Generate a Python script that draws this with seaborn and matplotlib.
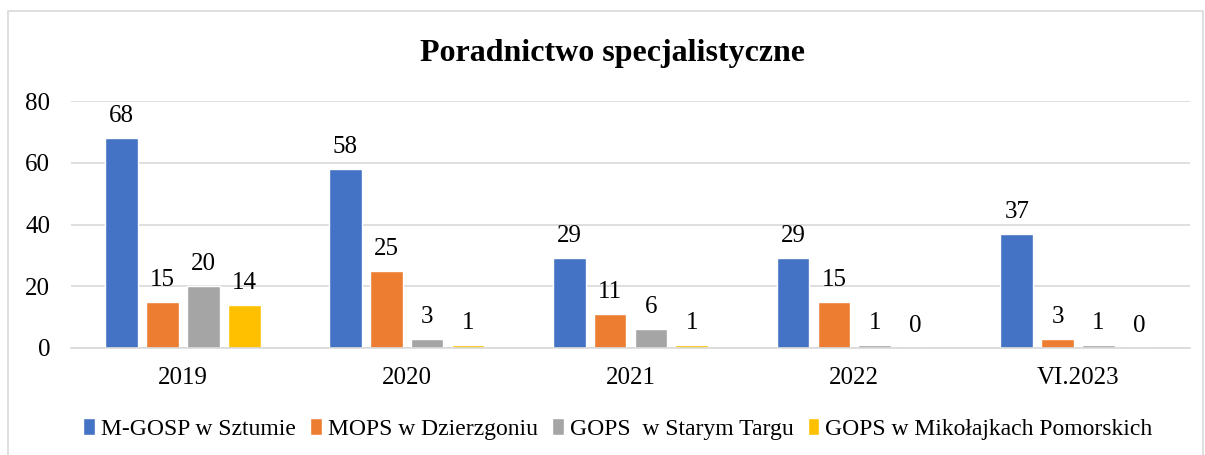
import matplotlib
matplotlib.use("Agg")
import matplotlib.pyplot as plt
import seaborn as sns
import pandas as pd
from matplotlib.patches import Rectangle

categories = ["2019", "2020", "2021", "2022", "VI.2023"]
series_names = ["M-GOSP w Sztumie", "MOPS w Dzierzgoniu", "GOPS  w Starym Targu", "GOPS w Mikołajkach Pomorskich"]
m_gosp = [68, 58, 29, 29, 37]
mops = [15, 25, 11, 15, 3]
gops_st = [20, 3, 6, 1, 1]
gops_mp = [14, 1, 1, 0, 0]
colors = ["#4472C4", "#ED7D31", "#A5A5A5", "#FFC000"]

rows = []
for name, vals in zip(series_names, [m_gosp, mops, gops_st, gops_mp]):
    for c, v in zip(categories, vals):
        rows.append({"cat": c, "value": v, "series": name})
df = pd.DataFrame(rows)

sns.set_style("white")
plt.rcParams["font.family"] = ["Liberation Serif", "DejaVu Serif"]
plt.rcParams["text.color"] = "black"
plt.rcParams["xtick.color"] = "black"
plt.rcParams["ytick.color"] = "black"

W, H = 1205, 455
fig = plt.figure(figsize=(W / 100, H / 100), dpi=100)
ax = fig.add_axes([71 / W, 1 - 348 / H, (1190 - 71) / W, (348 - 101) / H])

sns.barplot(data=df, x="cat", y="value", hue="series", palette=colors,
            saturation=1, width=0.73, gap=0.2, ax=ax, legend=True)

for cont in ax.containers:
    ax.bar_label(cont, padding=8, fontsize=18, color="black")

ax.set_ylim(0, 80)
ax.set_yticks([0, 20, 40, 60, 80])
ax.set_xlim(-0.5, 4.5)
ax.set_xlabel("")
ax.set_ylabel("")
ax.grid(axis="y", color="#D9D9D9", linewidth=1.2)
ax.set_axisbelow(True)
for s in ["top", "right", "left"]:
    ax.spines[s].set_visible(False)
ax.spines["bottom"].set_color("#D9D9D9")
ax.spines["bottom"].set_linewidth(1.2)
ax.tick_params(axis="y", length=0, labelsize=18, pad=15)
ax.tick_params(axis="x", length=0, labelsize=18, pad=14)

handles, labels = ax.get_legend_handles_labels()
ax.get_legend().remove()
fig.legend(handles, labels, loc="center", bbox_to_anchor=(618 / W, 1 - 429 / H),
           ncol=4, frameon=False, fontsize=17, handlelength=0.5, handleheight=0.7,
           handletextpad=0.25, columnspacing=0.6)

fig.text(613 / W, 1 - 53 / H, "Poradnictwo specjalistyczne", ha="center", va="center",
         fontsize=23, fontweight="bold")

fig.patches.append(Rectangle((8 / W, -0.1), (1203 - 8) / W, 1 - 11 / H + 0.1,
                             transform=fig.transFigure, fill=False,
                             edgecolor="#D9D9D9", linewidth=1.2))

fig.savefig("out.png", dpi=100)
